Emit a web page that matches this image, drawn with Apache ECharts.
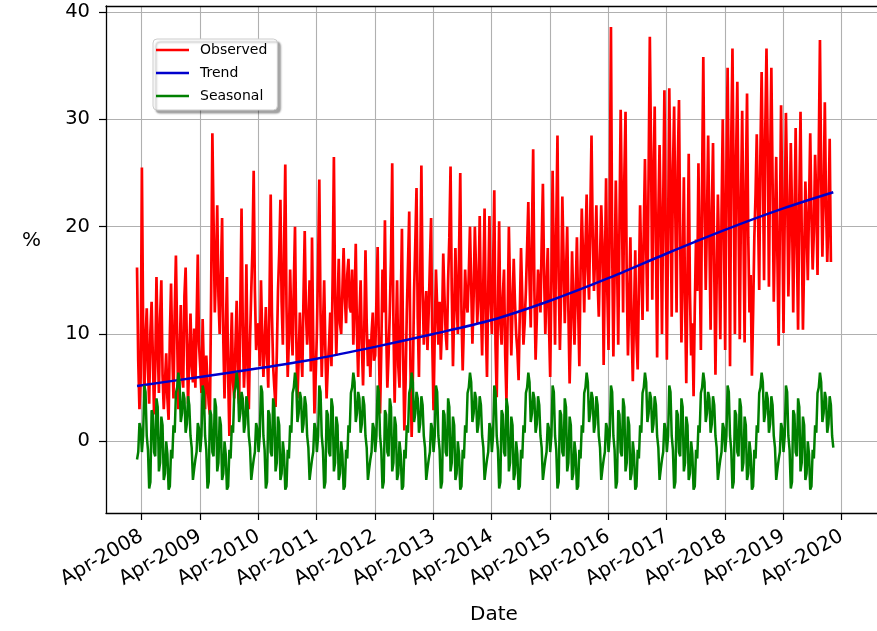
<!DOCTYPE html>
<html>
<head>
<meta charset="utf-8">
<script src="https://cdn.jsdelivr.net/npm/echarts@6/dist/echarts.min.js"></script>
<style>
  html, body { margin: 0; padding: 0; background: #fff; }
  #chart { width: 877px; height: 631px; }
</style>
</head>
<body>
<div id="chart"></div>
<script>
// Weekly-ish samples (48 per year), first one in early March 2008 (decimal years)
const firstSample = 2008.17;
const samplesPerYear = 48;

// Observed series, one row per year of samples
const observed2008 = [16.2,7.5, 3.0,6.0, 25.5,11.0, 4.0,9.5, 12.4,6.8, 3.5,10.2, 13.0,8.0, 2.5,7.0, 15.3,9.0, 4.5,11.5, 15.0,6.2, 3.0,5.5, 8.2,4.0, 2.0,9.8, 14.7,8.5, 4.0,12.0, 17.3,10.0, 3.0,7.5, 12.7,6.0, 5.0,13.5, 16.2,9.2, 3.5,8.0, 11.9,7.0, 5.5,10.5];
const observed2009 = [5.0,11.0, 17.4,9.0, 7.0,4.5, 11.4,6.5, 3.0,8.0, 5.5,3.5, 2.5,14.0, 28.7,20.5, 12.0,16.0, 22.0,13.5, 10.0,15.5, 20.8,9.5, 4.0,10.0, 15.3,6.0, 0.5,7.5, 12.0,5.5, 4.0,9.0, 13.1,7.0, 3.5,12.5, 21.7,11.0, 5.0,8.0, 16.5,6.5, 3.0,9.5, 14.0,18.0];
const observed2010 = [25.2,14.0, 8.5,10.5, 11.0,7.0, 15.0,10.0, 6.0,9.0, 12.5,8.0, 5.0,13.0, 23.0,12.0, 7.0,5.0, 3.2,8.0, 14.0,17.5, 22.5,13.0, 9.0,18.0, 25.8,12.5, 6.0,9.5, 16.0,11.0, 8.0,14.5, 20.0,10.0, 4.0,7.5, 12.0,8.5, 6.0,13.5, 19.6,12.0, 9.0,11.5, 15.0,6.5];
const observed2011 = [19.0,9.5, 2.6,6.0, 10.0,16.5, 24.4,12.0, 6.0,10.5, 15.0,8.5, 4.0,7.0, 9.0,12.0, 7.0,15.5, 26.5,13.0, 8.0,12.5, 17.0,11.0, 10.0,14.0, 18.0,13.5, 11.0,15.5, 17.0,12.5, 12.0,16.0, 9.0,13.0, 18.4,10.0, 6.0,11.5, 15.0,9.0, 5.2,10.5, 17.8,11.0, 7.0,9.5];
const observed2012 = [6.0,10.0, 12.0,7.5, 8.0,13.0, 18.1,9.0, 2.6,8.5, 16.0,12.0, 20.6,10.5, 5.0,8.0, 12.0,17.0, 25.9,11.0, 3.6,9.5, 15.0,7.0, 5.0,12.5, 19.8,8.0, 1.0,5.5, 12.0,16.5, 21.4,7.0, 0.4,6.0, 14.0,18.5, 23.6,11.5, 6.0,15.0, 25.7,14.5, 9.0,12.0, 14.0,8.5];
const observed2013 = [12.0,16.5, 20.8,9.0, 2.9,10.0, 16.0,12.5, 9.0,13.0, 7.6,11.0, 17.5,13.5, 10.0,8.5, 15.0,19.0, 25.6,14.0, 7.0,12.0, 18.0,13.0, 10.0,17.5, 25.0,12.0, 6.6,11.0, 16.0,13.0, 12.0,15.5, 20.0,14.5, 9.1,13.5, 20.0,16.0, 11.0,14.0, 21.0,12.5, 8.0,15.0, 21.7,11.0];
const observed2014 = [6.0,14.0, 21.0,13.0, 10.0,16.0, 23.4,9.0, 4.1,12.5, 20.5,11.0, 9.0,13.5, 16.0,8.0, 3.8,11.5, 20.0,14.0, 8.0,12.5, 17.0,13.0, 10.0,8.5, 5.7,12.0, 18.0,13.5, 9.0,11.0, 14.0,18.0, 22.3,15.0, 10.6,19.5, 27.2,14.0, 7.6,11.5, 16.0,14.5, 12.0,18.5, 24.0,15.5];
const observed2015 = [10.0,14.5, 18.0,11.0, 6.0,15.0, 25.2,16.5, 9.0,20.0, 28.5,15.0, 8.5,14.0, 22.8,17.0, 11.0,15.5, 20.0,12.0, 5.4,10.5, 17.7,13.0, 9.0,14.0, 19.0,12.5, 7.0,16.0, 21.7,17.5, 12.0,18.0, 23.0,16.0, 13.2,21.0, 28.5,19.0, 14.0,17.5, 22.0,15.0, 11.6,17.0, 22.0,18.5];
const observed2016 = [7.1,16.0, 24.5,14.0, 8.5,22.0, 38.6,18.0, 7.9,15.5, 24.3,17.0, 9.0,20.0, 30.9,22.0, 12.0,24.5, 30.7,15.0, 8.0,13.0, 19.0,10.5, 5.6,12.0, 17.8,9.5, 6.7,14.5, 22.0,16.0, 11.3,19.5, 26.3,18.0, 12.1,25.0, 37.7,27.0, 13.2,24.0, 31.2,18.5, 7.8,21.0, 27.6,20.0];
const observed2017 = [10.0,22.0, 32.7,20.0, 7.6,19.0, 32.9,23.5, 11.6,25.0, 31.2,21.0, 12.0,26.0, 31.8,18.5, 9.2,16.0, 24.6,13.0, 5.4,15.5, 26.8,14.0, 8.0,11.0, 4.2,12.5, 18.8,14.0, 25.9,17.0, 8.5,24.0, 35.8,22.0, 14.1,20.5, 28.5,19.0, 10.4,21.5, 27.8,16.0, 6.2,15.0, 23.0,17.5];
const observed2018 = [9.5,21.0, 30.0,19.5, 8.5,25.0, 34.8,22.5, 7.0,28.0, 36.6,24.0, 10.0,26.5, 33.5,21.0, 9.5,22.0, 30.8,20.5, 9.2,24.0, 32.4,19.0, 12.0,15.5, 6.1,12.0, 19.0,23.0, 28.6,21.5, 14.1,27.0, 34.4,25.5, 15.0,29.0, 36.6,27.5, 14.4,26.0, 34.8,24.5, 13.0,20.0, 26.5,17.0];
const observed2019 = [8.9,20.0, 31.3,22.0, 10.1,21.0, 30.6,23.5, 13.5,19.0, 27.8,21.5, 12.0,20.5, 29.2,18.0, 10.4,22.5, 30.7,19.5, 10.4,17.0, 24.2,20.0, 15.0,22.0, 28.7,21.0, 16.0,19.5, 26.7,22.5, 15.5,27.0, 37.4,24.5, 17.2,23.0, 31.6,22.0, 16.7,21.0, 28.2,16.7];

// Seasonal component, one row per year of samples
const seasonal2008 = [-1.7,-1.0, 1.7,1.2, -1.0,0.5, 5.2,4.6, 0.5,-0.8, -4.4,-3.8, 2.9,2.5, -1.0,-1.4, 4.0,3.2, -2.8,-2.0, 2.3,1.5, -3.6,-3.0, 0.0,-1.2, -4.5,-4.2, -0.8,-1.6, 1.5,0.8, 4.5,5.0, 6.4,5.5, 1.8,2.6, 4.6,4.0, 0.8,1.6, 4.2,3.4, 0.5,-0.6, -3.6,-2.6];
const seasonal2009 = [-1.7,-1.0, 1.7,1.2, -1.0,0.5, 5.2,4.6, 0.5,-0.8, -4.4,-3.8, 2.9,2.5, -1.0,-1.4, 4.0,3.2, -2.8,-2.0, 2.3,1.5, -3.6,-3.0, 0.0,-1.2, -4.5,-4.2, -0.8,-1.6, 1.5,0.8, 4.5,5.0, 6.4,5.5, 1.8,2.6, 4.6,4.0, 0.8,1.6, 4.2,3.4, 0.5,-0.6, -3.6,-2.6];
const seasonal2010 = [-1.7,-1.0, 1.7,1.2, -1.0,0.5, 5.2,4.6, 0.5,-0.8, -4.4,-3.8, 2.9,2.5, -1.0,-1.4, 4.0,3.2, -2.8,-2.0, 2.3,1.5, -3.6,-3.0, 0.0,-1.2, -4.5,-4.2, -0.8,-1.6, 1.5,0.8, 4.5,5.0, 6.4,5.5, 1.8,2.6, 4.6,4.0, 0.8,1.6, 4.2,3.4, 0.5,-0.6, -3.6,-2.6];
const seasonal2011 = [-1.7,-1.0, 1.7,1.2, -1.0,0.5, 5.2,4.6, 0.5,-0.8, -4.4,-3.8, 2.9,2.5, -1.0,-1.4, 4.0,3.2, -2.8,-2.0, 2.3,1.5, -3.6,-3.0, 0.0,-1.2, -4.5,-4.2, -0.8,-1.6, 1.5,0.8, 4.5,5.0, 6.4,5.5, 1.8,2.6, 4.6,4.0, 0.8,1.6, 4.2,3.4, 0.5,-0.6, -3.6,-2.6];
const seasonal2012 = [-1.7,-1.0, 1.7,1.2, -1.0,0.5, 5.2,4.6, 0.5,-0.8, -4.4,-3.8, 2.9,2.5, -1.0,-1.4, 4.0,3.2, -2.8,-2.0, 2.3,1.5, -3.6,-3.0, 0.0,-1.2, -4.5,-4.2, -0.8,-1.6, 1.5,0.8, 4.5,5.0, 6.4,5.5, 1.8,2.6, 4.6,4.0, 0.8,1.6, 4.2,3.4, 0.5,-0.6, -3.6,-2.6];
const seasonal2013 = [-1.7,-1.0, 1.7,1.2, -1.0,0.5, 5.2,4.6, 0.5,-0.8, -4.4,-3.8, 2.9,2.5, -1.0,-1.4, 4.0,3.2, -2.8,-2.0, 2.3,1.5, -3.6,-3.0, 0.0,-1.2, -4.5,-4.2, -0.8,-1.6, 1.5,0.8, 4.5,5.0, 6.4,5.5, 1.8,2.6, 4.6,4.0, 0.8,1.6, 4.2,3.4, 0.5,-0.6, -3.6,-2.6];
const seasonal2014 = [-1.7,-1.0, 1.7,1.2, -1.0,0.5, 5.2,4.6, 0.5,-0.8, -4.4,-3.8, 2.9,2.5, -1.0,-1.4, 4.0,3.2, -2.8,-2.0, 2.3,1.5, -3.6,-3.0, 0.0,-1.2, -4.5,-4.2, -0.8,-1.6, 1.5,0.8, 4.5,5.0, 6.4,5.5, 1.8,2.6, 4.6,4.0, 0.8,1.6, 4.2,3.4, 0.5,-0.6, -3.6,-2.6];
const seasonal2015 = [-1.7,-1.0, 1.7,1.2, -1.0,0.5, 5.2,4.6, 0.5,-0.8, -4.4,-3.8, 2.9,2.5, -1.0,-1.4, 4.0,3.2, -2.8,-2.0, 2.3,1.5, -3.6,-3.0, 0.0,-1.2, -4.5,-4.2, -0.8,-1.6, 1.5,0.8, 4.5,5.0, 6.4,5.5, 1.8,2.6, 4.6,4.0, 0.8,1.6, 4.2,3.4, 0.5,-0.6, -3.6,-2.6];
const seasonal2016 = [-1.7,-1.0, 1.7,1.2, -1.0,0.5, 5.2,4.6, 0.5,-0.8, -4.4,-3.8, 2.9,2.5, -1.0,-1.4, 4.0,3.2, -2.8,-2.0, 2.3,1.5, -3.6,-3.0, 0.0,-1.2, -4.5,-4.2, -0.8,-1.6, 1.5,0.8, 4.5,5.0, 6.4,5.5, 1.8,2.6, 4.6,4.0, 0.8,1.6, 4.2,3.4, 0.5,-0.6, -3.6,-2.6];
const seasonal2017 = [-1.7,-1.0, 1.7,1.2, -1.0,0.5, 5.2,4.6, 0.5,-0.8, -4.4,-3.8, 2.9,2.5, -1.0,-1.4, 4.0,3.2, -2.8,-2.0, 2.3,1.5, -3.6,-3.0, 0.0,-1.2, -4.5,-4.2, -0.8,-1.6, 1.5,0.8, 4.5,5.0, 6.4,5.5, 1.8,2.6, 4.6,4.0, 0.8,1.6, 4.2,3.4, 0.5,-0.6, -3.6,-2.6];
const seasonal2018 = [-1.7,-1.0, 1.7,1.2, -1.0,0.5, 5.2,4.6, 0.5,-0.8, -4.4,-3.8, 2.9,2.5, -1.0,-1.4, 4.0,3.2, -2.8,-2.0, 2.3,1.5, -3.6,-3.0, 0.0,-1.2, -4.5,-4.2, -0.8,-1.6, 1.5,0.8, 4.5,5.0, 6.4,5.5, 1.8,2.6, 4.6,4.0, 0.8,1.6, 4.2,3.4, 0.5,-0.6, -3.6,-2.6];
const seasonal2019 = [-1.7,-1.0, 1.7,1.2, -1.0,0.5, 5.2,4.6, 0.5,-0.8, -4.4,-3.8, 2.9,2.5, -1.0,-1.4, 4.0,3.2, -2.8,-2.0, 2.3,1.5, -3.6,-3.0, 0.0,-1.2, -4.5,-4.2, -0.8,-1.6, 1.5,0.8, 4.5,5.0, 6.4,5.5, 1.8,2.6, 4.6,4.0, 0.8,1.6, 4.2,3.4, 0.5,-0.6];

// Trend component at a few dates (decimal years)
const trendDates  = [2008.17, 2009.25, 2010.25, 2011.25, 2012.25, 2013.25, 2014.25, 2015.25, 2016.25, 2017.25, 2018.25, 2019.25, 2020.107];
const trendValues = [5.15, 6.0, 6.8, 7.7, 8.8, 10.0, 11.3, 13.1, 15.2, 17.5, 19.7, 21.7, 23.2];

// X tick positions (April of each year) and their labels
const xTickValues = [2008.25, 2009.25, 2010.25, 2011.25, 2012.25, 2013.25, 2014.25, 2015.25, 2016.25, 2017.25, 2018.25, 2019.25, 2020.25];
const xTickLabels = ['Apr-2008', 'Apr-2009', 'Apr-2010', 'Apr-2011', 'Apr-2012', 'Apr-2013', 'Apr-2014', 'Apr-2015', 'Apr-2016', 'Apr-2017', 'Apr-2018', 'Apr-2019', 'Apr-2020'];
const yTickValues = [0, 10, 20, 30, 40];

const observed = [].concat(observed2008, observed2009, observed2010, observed2011, observed2012, observed2013,
  observed2014, observed2015, observed2016, observed2017, observed2018, observed2019);
const seasonal = [].concat(seasonal2008, seasonal2009, seasonal2010, seasonal2011, seasonal2012, seasonal2013,
  seasonal2014, seasonal2015, seasonal2016, seasonal2017, seasonal2018, seasonal2019);

const sampleDate = i => firstSample + i / samplesPerYear;
const pairs = arr => arr.map((v, i) => [sampleDate(i), v]);

const FONT = 'DejaVu Sans';
const X_MIN = 2007.638, X_MAX = 2020.942;
const frameLine = { show: true, onZero: false, lineStyle: { color: '#000', width: 1.3 } };
const chart = echarts.init(document.getElementById('chart'), null, { renderer: 'canvas' });

chart.setOption({
  animation: false,
  backgroundColor: '#ffffff',
  textStyle: { fontFamily: FONT, color: '#000' },
  grid: {
    left: 106, top: 6, width: 776, height: 507,
    outerBoundsMode: 'none',
    containLabel: false,
    show: false
  },
  legend: {
    data: ['Observed', 'Trend', 'Seasonal'],
    orient: 'vertical',
    left: 153, top: 39,
    padding: [3, 10, 6, 3],
    icon: 'rect',
    itemWidth: 33, itemHeight: 2.5, itemGap: 7,
    backgroundColor: '#fff',
    borderColor: '#cccccc', borderWidth: 1, borderRadius: 4,
    shadowColor: 'rgba(0,0,0,0.35)', shadowBlur: 2, shadowOffsetX: 3, shadowOffsetY: 3,
    textStyle: { fontFamily: FONT, fontSize: 14, lineHeight: 16, color: '#000', padding: [0, 0, 0, 6] }
  },
  xAxis: [
    {
      type: 'value', position: 'bottom',
      min: X_MIN, max: X_MAX,
      name: 'Date', nameLocation: 'middle', nameGap: 92,
      nameTextStyle: { fontFamily: FONT, fontSize: 20, color: '#000' },
      axisLine: frameLine,
      axisTick: { show: true, customValues: xTickValues, length: 7, lineStyle: { color: '#000', width: 1.2 } },
      axisLabel: {
        customValues: xTickValues,
        rotate: 30, margin: 22,
        fontFamily: FONT, fontSize: 20, color: '#000',
        formatter: v => xTickLabels[Math.round(v - xTickValues[0])]
      },
      splitLine: { show: true, lineStyle: { color: '#b0b0b0', width: 1.1 } }
    },
    {
      // top edge of the frame
      type: 'value', position: 'top',
      min: X_MIN, max: X_MAX,
      axisLine: frameLine,
      axisTick: { show: false }, axisLabel: { show: false }, splitLine: { show: false }
    }
  ],
  yAxis: {
    type: 'value',
    min: -6.68, max: 40.56,
    axisLine: frameLine,
    axisTick: { show: true, customValues: yTickValues, length: 7, lineStyle: { color: '#000', width: 1.2 } },
    axisLabel: { customValues: yTickValues, margin: 16, fontFamily: FONT, fontSize: 19.5, color: '#000' },
    splitLine: { show: true, lineStyle: { color: '#b0b0b0', width: 1.1 } }
  },
  graphic: [{
    type: 'text', left: 22, top: 231,
    style: { text: '%', font: '20px "DejaVu Sans"', fill: '#000' }
  }],
  series: [
    {
      name: 'Observed', type: 'line', data: pairs(observed),
      symbol: 'none', color: '#ff0000',
      lineStyle: { color: '#ff0000', width: 2.7 }, z: 2
    },
    {
      name: 'Trend', type: 'line', data: trendDates.map((d, i) => [d, trendValues[i]]),
      symbol: 'none', smooth: 0.3, color: '#0000cc',
      lineStyle: { color: '#0000cc', width: 2.5 }, z: 3
    },
    {
      name: 'Seasonal', type: 'line', data: pairs(seasonal),
      symbol: 'none', color: '#008000',
      lineStyle: { color: '#008000', width: 2.5 }, z: 4
    }
  ]
});
</script>
</body>
</html>
